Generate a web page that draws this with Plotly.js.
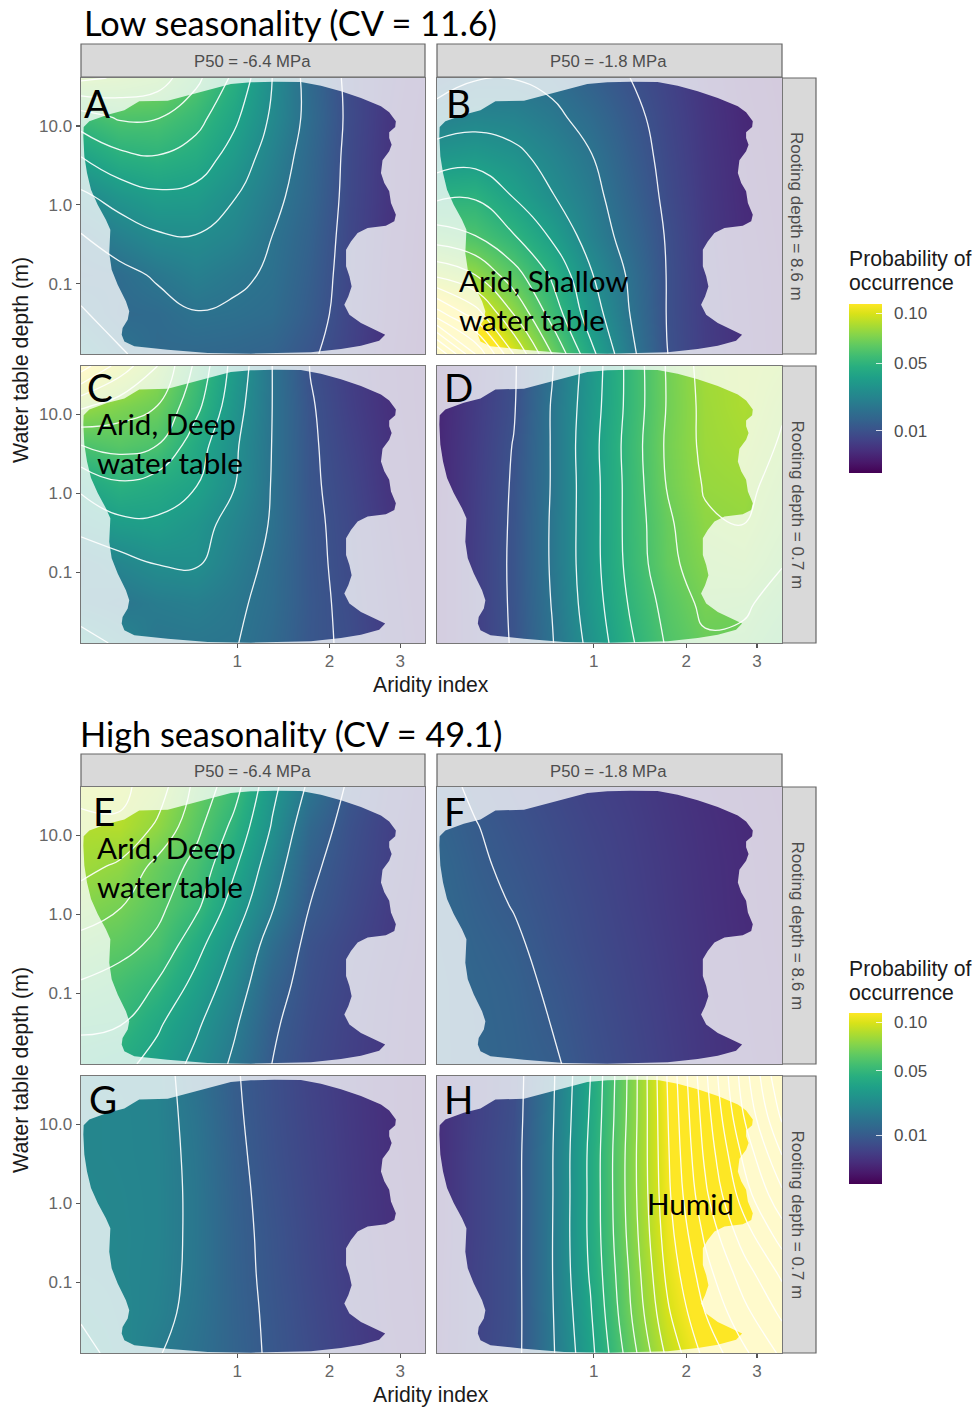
<!DOCTYPE html>
<html>
<head>
<meta charset="utf-8">
<script src="https://cdn.plot.ly/plotly-3.0.1.min.js"></script>
<style>html,body{margin:0;padding:0;background:#fff}</style>
</head>
<body>
<div id="chart" style="width:976px;height:1408px"></div>
<script>
// Grid: square root of aridity index (columns) and log10 of water table depth (rows, top to bottom)
const gridSqrtAridity = [0.297,0.469,0.641,0.813,0.985,1.157,1.328,1.5,1.672,1.844];
const gridLogDepth = [1.609,1.109,0.609,0.109,-0.391,-0.891,-1.391,-1.893];

const probA = [
 [.082,.079,.075,.0625,.048,.03,.0165,.0085,.0055,.0038],
 [.0555,.061,.0605,.0536,.042,.0285,.0172,.0088,.0052,.0035],
 [.04,.0475,.0495,.0455,.0363,.0253,.016,.0085,.005,.0033],
 [.028,.034,.038,.037,.0305,.0225,.0153,.0083,.005,.0032],
 [.0195,.0245,.029,.0298,.0265,.02,.0142,.008,.0048,.003],
 [.0165,.0175,.021,.0243,.0215,.019,.0133,.0078,.0046,.0029],
 [.021,.0165,.017,.0195,.0188,.0175,.0125,.0075,.0045,.0028],
 [.03,.021,.0165,.016,.0155,.0145,.0108,.0072,.0042,.0027]];
const probB = [
 [.015,.0195,.0198,.018,.0138,.0101,.0072,.0047,.0031,.0025],
 [.0245,.0265,.0255,.0218,.0172,.0118,.0078,.005,.0033,.0026],
 [.0345,.036,.0325,.0265,.0205,.0132,.0083,.0052,.0035,.0027],
 [.048,.049,.0395,.0305,.023,.0146,.0088,.0054,.0036,.0028],
 [.0645,.06,.0505,.0385,.0255,.0165,.0095,.0056,.0038,.0029],
 [.088,.08,.064,.0485,.031,.019,.0098,.0058,.004,.003],
 [.125,.105,.08,.056,.035,.0203,.0098,.006,.0041,.003],
 [.18,.14,.10,.07,.043,.0225,.0101,.0062,.0042,.003]];
const probC = [
 [.115,.096,.08,.058,.0365,.02,.0098,.0062,.0042,.0032],
 [.082,.075,.07,.053,.034,.02,.0105,.0066,.0043,.0032],
 [.06,.0635,.06,.0445,.0315,.0198,.0108,.0072,.0046,.0033],
 [.042,.0485,.045,.0405,.0305,.0195,.0109,.0078,.0048,.0034],
 [.0335,.0375,.0385,.034,.0265,.0192,.0112,.0082,.0052,.0036],
 [.0225,.0265,.0302,.031,.024,.018,.0113,.0085,.0055,.0038],
 [.023,.0205,.023,.024,.0215,.0175,.0115,.0088,.0058,.004],
 [.035,.028,.0205,.021,.0205,.0165,.0113,.0092,.006,.0042]];
const probD = [
 [.003,.0055,.0093,.0195,.034,.0525,.0708,.084,.087,.084],
 [.003,.0058,.0095,.0205,.035,.0525,.0705,.083,.087,.081],
 [.0032,.006,.0102,.0205,.036,.0535,.0715,.0825,.085,.079],
 [.0032,.0062,.0105,.0205,.0355,.053,.0705,.081,.0825,.0765],
 [.0033,.0063,.0107,.0208,.0355,.053,.068,.0785,.0802,.074],
 [.0033,.0064,.0108,.0208,.0355,.0525,.0672,.0755,.077,.0705],
 [.0033,.0064,.0107,.0203,.0345,.0505,.0635,.0725,.0715,.066],
 [.0033,.0063,.0105,.0195,.0325,.048,.061,.0685,.068,.062]];
const probE = [
 [.093,.0925,.085,.0675,.054,.0325,.018,.009,.0055,.0035],
 [.0875,.0885,.0785,.063,.0475,.0292,.0135,.0078,.005,.0033],
 [.083,.0785,.067,.057,.0415,.0245,.0112,.0072,.0048,.003],
 [.075,.0708,.0627,.0523,.0356,.0208,.0099,.0066,.0043,.0029],
 [.067,.0635,.0577,.0435,.0295,.0155,.008,.0058,.004,.0028],
 [.059,.0555,.0493,.037,.025,.0125,.0075,.0054,.0036,.0026],
 [.0515,.0505,.0414,.0316,.0212,.0108,.007,.005,.0035,.0025],
 [.046,.043,.0365,.0275,.0185,.0099,.0066,.0048,.0034,.0025]];
const probF = [
 [.0115,.0092,.0075,.0062,.005,.0042,.0033,.0025,.002,.0016],
 [.0125,.0102,.0083,.0068,.0055,.0045,.0035,.0027,.0021,.0017],
 [.0135,.0108,.009,.0073,.0059,.0047,.0037,.0028,.0022,.0017],
 [.014,.0115,.0098,.0078,.0063,.0049,.0038,.0029,.0022,.0018],
 [.0145,.0122,.0108,.0083,.0066,.0052,.004,.003,.0023,.0018],
 [.015,.0128,.0115,.0092,.0071,.0055,.0042,.0031,.0024,.0019],
 [.015,.013,.0118,.0099,.0075,.0058,.0044,.0033,.0025,.0019],
 [.015,.0132,.012,.0107,.0079,.0061,.0046,.0034,.0026,.002]];
const probG = [
 [.024,.0235,.023,.0165,.0105,.0075,.0052,.0037,.0026,.0018],
 [.0245,.024,.023,.0175,.0108,.0076,.0054,.0038,.0026,.0018],
 [.0245,.024,.0232,.018,.0112,.0078,.0056,.0039,.0027,.0019],
 [.025,.0243,.0233,.0183,.0115,.0082,.0058,.004,.0028,.002],
 [.025,.0245,.0233,.0183,.0117,.0085,.006,.0041,.0029,.002],
 [.0255,.0245,.023,.0182,.0118,.0087,.0062,.0043,.003,.0021],
 [.0285,.025,.0225,.0175,.012,.009,.0065,.0045,.0031,.0022],
 [.034,.026,.0205,.0165,.0122,.0092,.0068,.0047,.0033,.0023]];
const probH = [
 [.0025,.0048,.007,.0185,.04,.0715,.11,.148,.185,.22],
 [.0025,.0048,.0072,.019,.041,.072,.109,.145,.18,.212],
 [.0025,.005,.0075,.0195,.042,.073,.108,.142,.172,.2],
 [.0026,.005,.0075,.0195,.042,.073,.107,.138,.165,.188],
 [.0026,.005,.0075,.0197,.042,.072,.105,.132,.155,.175],
 [.0027,.0052,.0075,.0197,.041,.07,.102,.126,.145,.162],
 [.0027,.0052,.0075,.0193,.039,.068,.098,.12,.137,.152],
 [.0028,.0053,.0077,.0188,.037,.064,.092,.113,.128,.142]];

// Outline of the observed climate envelope (same units as the grid)
const envelopeSqrtAridity = [.559,.687,.792,.897,.971,1.061,1.166,1.286,1.376,1.466,1.556,1.646,1.683,1.713,1.710,1.683,1.683,1.694,1.683,1.653,1.646,1.661,1.683,1.691,1.713,1.706,1.668,1.586,1.541,1.511,1.489,1.489,1.504,1.514,1.499,1.481,1.504,1.556,1.616,1.665,1.638,1.556,1.466,1.331,1.061,.867,.687,.537,.492,.480,.484,.507,.514,.499,.462,.435,.424,.429,.409,.372,.342,.324,.312,.3075,.309,.3345,.417,.492,.529,.559];
const envelopeLogDepth = [1.313,1.321,1.397,1.482,1.533,1.554,1.562,1.558,1.512,1.440,1.355,1.249,1.173,1.059,.987,.920,.848,.763,.678,.564,.403,.277,.171,.023,-.125,-.210,-.265,-.295,-.358,-.464,-.570,-.781,-.908,-1.035,-1.162,-1.268,-1.394,-1.500,-1.576,-1.648,-1.724,-1.788,-1.830,-1.872,-1.889,-1.881,-1.839,-1.796,-1.733,-1.648,-1.564,-1.458,-1.352,-1.225,-1.014,-.823,-.612,-.316,-.189,.002,.192,.403,.615,.869,.987,1.059,1.144,1.199,1.262,1.313];

const aridityTicks = [1,2,3];
const depthTicks = [0.1,1,10];
const depthTickLabels = ['0.1','1.0','10.0'];
const legendTicks = [0.01,0.05,0.10];
const legendTickLabels = ['0.01','0.05','0.10'];

const xRange = [0.297,1.844], yRange = [-1.893,1.609];
const W = 976, H = 1408;
const colPx = [[81,425],[437,782]];
const rowPx = [[78,354],[366,643],[787,1064],[1076,1353]];
const panels = [
 {z:probA,c:0,r:0,ca:'coloraxis'},{z:probB,c:1,r:0,ca:'coloraxis'},
 {z:probC,c:0,r:1,ca:'coloraxis'},{z:probD,c:1,r:1,ca:'coloraxis'},
 {z:probE,c:0,r:2,ca:'coloraxis2'},{z:probF,c:1,r:2,ca:'coloraxis2'},
 {z:probG,c:0,r:3,ca:'coloraxis2'},{z:probH,c:1,r:3,ca:'coloraxis2'}];

const px = x => x/W, py = y => 1-y/H;
const labelFont = 'Liberation Sans, Arial, sans-serif', slideFont = 'Lato, Carlito, sans-serif';
const traces = [], layout = {
  width:W,height:H,margin:{l:0,r:0,t:0,b:0,pad:0},paper_bgcolor:'#fff',plot_bgcolor:'#fff',showlegend:false,
  annotations:[],shapes:[]
};

const maskX = [xRange[0],xRange[0],xRange[1],xRange[1],xRange[0]].concat(envelopeSqrtAridity);
const maskY = [yRange[1],yRange[0],yRange[0],yRange[1],yRange[1]].concat(envelopeLogDepth);

panels.forEach((p,i)=>{
  const n = i+1, xa = 'x'+n, ya = 'y'+n;
  traces.push({type:'heatmap',x:gridSqrtAridity,y:gridLogDepth,z:p.z.map(r=>r.map(Math.sqrt)),
    zsmooth:'best',coloraxis:p.ca,xaxis:xa,yaxis:ya,hoverinfo:'skip'});
  traces.push({type:'contour',x:gridSqrtAridity,y:gridLogDepth,z:p.z,showscale:false,autocontour:false,
    contours:{start:0.01,end:0.30,size:0.01,coloring:'none',showlabels:false},
    line:{color:'rgba(255,255,255,0.92)',width:1.3,smoothing:1.3},xaxis:xa,yaxis:ya,hoverinfo:'skip'});
  traces.push({type:'scatter',mode:'lines',x:maskX,y:maskY,fill:'toself',fillcolor:'rgba(255,255,255,0.77)',
    line:{width:0},xaxis:xa,yaxis:ya,hoverinfo:'skip'});
  const bottom = p.r===1||p.r===3, left = p.c===0;
  layout['xaxis'+n] = {domain:[px(colPx[p.c][0]),px(colPx[p.c][1])],range:xRange,anchor:ya,
    tickmode:'array',tickvals:bottom?aridityTicks.map(Math.sqrt):[],ticktext:bottom?aridityTicks.map(String):[],
    ticks:bottom?'outside':'',ticklen:4,tickcolor:'#555',tickwidth:1.2,showgrid:false,zeroline:false,ticklabelstandoff:-2,
    showline:true,mirror:true,linecolor:'#777',linewidth:1.4,tickfont:{family:labelFont,size:17,color:'#666'}};
  layout['yaxis'+n] = {domain:[py(rowPx[p.r][1]),py(rowPx[p.r][0])],range:yRange,anchor:xa,
    tickmode:'array',tickvals:left?depthTicks.map(Math.log10):[],ticktext:left?depthTickLabels:[],
    ticks:left?'outside':'',ticklen:4,tickcolor:'#555',tickwidth:1.2,showgrid:false,zeroline:false,
    showline:true,mirror:true,linecolor:'#777',linewidth:1.4,tickfont:{family:labelFont,size:17,color:'#666'}};
});

function cb(top,lenPx){
  return {x:px(849),xanchor:'left',xpad:0,y:py(top),yanchor:'top',ypad:0,len:lenPx,lenmode:'pixels',
    thickness:33,thicknessmode:'pixels',outlinewidth:0,tickmode:'array',
    tickvals:legendTicks.map(Math.sqrt),ticktext:legendTickLabels.map(s=>'\u00a0\u2009'+s),
    ticks:'inside',ticklen:6,tickcolor:'rgba(255,255,255,0.8)',tickwidth:1,
    tickfont:{family:labelFont,size:17,color:'#4d4d4d'}};
}
layout.coloraxis = {cmin:0.0225,cmax:0.333,colorscale:'Viridis',colorbar:cb(304,169)};
layout.coloraxis2 = {cmin:0.0068,cmax:0.334,colorscale:'Viridis',colorbar:cb(1013,171)};

function note(text,x,y,size,opt){
  layout.annotations.push(Object.assign({text,xref:'paper',yref:'paper',x:px(x),y:py(y),showarrow:false,
    xanchor:'left',yanchor:'middle',borderpad:0,font:{family:slideFont,size,color:'#000'}},opt||{}));
}
function strip(x0,y0,x1,y1){
  layout.shapes.push({type:'rect',xref:'paper',yref:'paper',x0:px(x0),x1:px(x1),y0:py(y0),y1:py(y1),
    fillcolor:'#d9d9d9',line:{color:'#666',width:1.2},layer:'below'});
}
const greyLabel = {family:labelFont,size:16.7,color:'#4d4d4d'};
const greyLabelSide = {family:labelFont,size:17.1,color:'#4d4d4d'};
[[44,77],[754,787]].forEach(([t,b])=>{
  strip(81,t,425,b); strip(437,t,782,b);
  note('P50 = -6.4 MPa',252,(t+b)/2+0.5,0,{font:greyLabel,xanchor:'center'});
  note('P50 = -1.8 MPa',608,(t+b)/2+0.5,0,{font:greyLabel,xanchor:'center'});
});
rowPx.forEach((r,i)=>{
  strip(782,r[0],816,r[1]);
  note(i%2===0?'Rooting depth = 8.6 m':'Rooting depth = 0.7 m',797,(r[0]+r[1])/2,0,{font:greyLabelSide,xanchor:'center',textangle:90});
});
const axisFont = {family:labelFont,size:21.2,color:'#1a1a1a'};
[685,1395].forEach(y=>note('Aridity index',431,y,0,{font:axisFont,xanchor:'center'}));
[360,1070].forEach(y=>note('Water table depth (m)',21,y,0,{font:{family:labelFont,size:21.4,color:'#1a1a1a'},xanchor:'center',textangle:-90}));
[[259,283],[969,993]].forEach(([a,b])=>{
  const f = {family:labelFont,size:21.2,color:'#1a1a1a'};
  note('Probability of',848,a,0,{font:f}); note('occurrence',848,b,0,{font:f});
});
note('Low seasonality (CV = 11.6)',83,22,34.3);
note('High seasonality (CV = 49.1)',79,733,34.3);
[['A',83,103],['B',445,103],['C',86,387],['D',443,387],['E',92,811],['F',443,811],['G',88,1099],['H',443,1099]]
  .forEach(a=>note(a[0],a[1],a[2],38.5));
note('Arid, Shallow',458,280,29.6); note('water table',458,319,29.6);
note('Arid, Deep',96,423,29.6); note('water table',96,462,29.6);
note('Arid, Deep',96,847,29.6); note('water table',96,886,29.6);
note('Humid',646,1203,29.6);

Plotly.newPlot('chart',traces,layout,{staticPlot:true,displayModeBar:false});
</script>
</body>
</html>
